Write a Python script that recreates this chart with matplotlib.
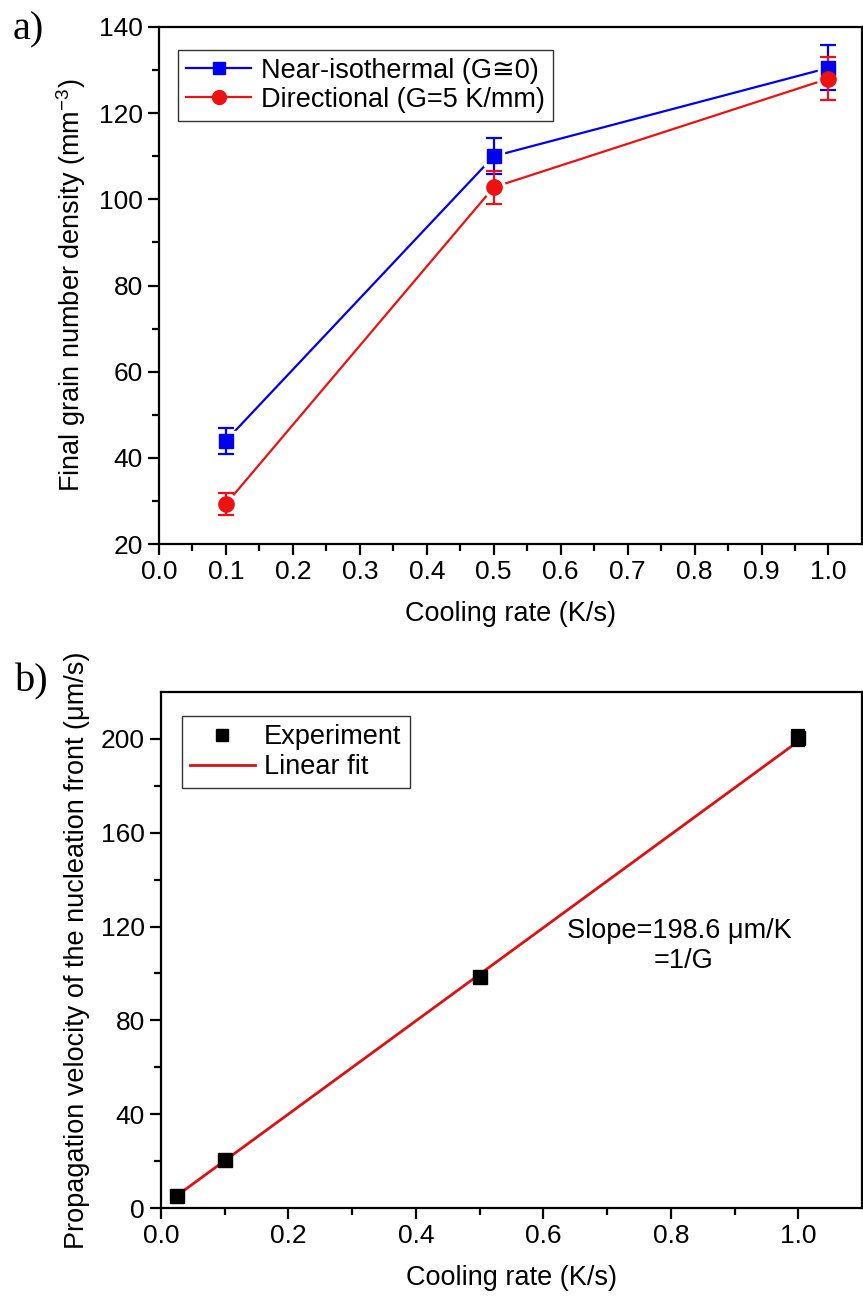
import numpy as np
import matplotlib.pyplot as plt
from matplotlib.lines import Line2D

plt.rcParams['font.family'] = ['Liberation Sans', 'DejaVu Sans']
plt.rcParams['mathtext.fontset'] = 'custom'
plt.rcParams['mathtext.rm'] = 'Liberation Sans'
plt.rcParams['mathtext.it'] = 'Liberation Sans'

# panel a data
rate_a = [0.1, 0.5, 1.0]
iso = [44.0, 110.0, 130.5]
iso_err = [3.0, 4.2, 5.2]
direc = [29.3, 102.8, 128.0]
direc_err = [2.6, 3.8, 5.0]

# panel b data
rate_b = [0.025, 0.1, 0.5, 1.0]
vel = [5.2, 20.3, 98.5, 200.5]
vel_err = [0.8, 1.0, 1.5, 3.5]
fit_x = [0.025, 1.0]
fit_y = [5.3, 199.0]

blue = '#0000ee'
red = '#ee1111'

fig = plt.figure(figsize=(8.63, 12.96), dpi=100)
ax1 = fig.add_axes([0.1842, 0.5802, 0.8146, 0.3990])
ax2 = fig.add_axes([0.1866, 0.0679, 0.8122, 0.3981])

fs = 19.5

def style(ax):
    for s in ax.spines.values():
        s.set_linewidth(1.6)
    ax.tick_params(which='both', direction='out', top=False, right=False,
                   labelsize=19, width=1.6)
    ax.tick_params(which='major', length=8)
    ax.tick_params(which='minor', length=5)

# ---- a)  line, white halo (gap), error bars, markers
for y, err, c, m, ms in [(iso, iso_err, blue, 's', 10), (direc, direc_err, red, 'o', 11)]:
    ax1.plot(rate_a, y, color=c, lw=1.6, zorder=1)
    ax1.plot(rate_a, y, ls='none', marker=m, ms=ms + 4.5, mfc='white', mec='white', zorder=2)
    ax1.errorbar(rate_a, y, yerr=err, fmt='none', ecolor=c, capsize=6,
                 capthick=1.6, elinewidth=1.6, zorder=3)
    ax1.plot(rate_a, y, ls='none', marker=m, ms=ms, mfc=c, mec=c, zorder=4)

ax1.set_xlim(0, 1.05)
ax1.set_ylim(20, 140)
ax1.set_xticks(np.arange(0, 1.01, 0.1))
ax1.set_xticks(np.arange(0.05, 1.05, 0.1), minor=True)
ax1.set_yticks(np.arange(20, 141, 20))
ax1.set_yticks(np.arange(30, 140, 20), minor=True)
ax1.set_xticklabels(['%.1f' % v for v in np.arange(0, 1.01, 0.1)])
ax1.set_xlabel('Cooling rate (K/s)', fontsize=fs, labelpad=12)
ax1.set_ylabel('Final grain number density (mm$^{-3}$)', fontsize=fs, labelpad=8)
style(ax1)
h1 = [Line2D([], [], color=blue, marker='s', ms=9, lw=1.6),
      Line2D([], [], color=red, marker='o', ms=10, lw=1.6)]
leg = ax1.legend(h1, ['Near-isothermal (G\u22450)', 'Directional (G=5 K/mm)'],
                 loc='upper left', fontsize=fs, frameon=True, fancybox=False,
                 edgecolor='black', handlelength=2.4, borderpad=0.3,
                 labelspacing=0.1, handletextpad=0.35,
                 bbox_to_anchor=(0.008, 0.982))
leg.get_frame().set_linewidth(1.0)
fig.text(0.015, 0.977, 'a)', fontsize=29, family='Liberation Serif', va='center')

# ---- b)
ax2.plot(fit_x, fit_y, color='#dd1111', lw=2, zorder=2)
ax2.errorbar(rate_b, vel, yerr=vel_err, color='black', marker='s', ms=10,
             ls='none', capsize=5, capthick=1.6, elinewidth=1.6, zorder=3)
ax2.set_xlim(0, 1.1)
ax2.set_ylim(0, 220)
ax2.set_xticks(np.arange(0, 1.01, 0.2))
ax2.set_xticks(np.arange(0.1, 1.1, 0.2), minor=True)
ax2.set_yticks(np.arange(0, 201, 40))
ax2.set_yticks(np.arange(20, 220, 40), minor=True)
ax2.set_xticklabels(['%.1f' % v for v in np.arange(0, 1.01, 0.2)])
ax2.set_xlabel('Cooling rate (K/s)', fontsize=fs, labelpad=12)
ax2.set_ylabel('Propagation velocity of the nucleation front (\u03bcm/s)',
               fontsize=fs, labelpad=8)
style(ax2)
h2 = [Line2D([], [], color='black', marker='s', ms=8, ls='none'),
      Line2D([], [], color='#dd1111', lw=2)]
leg2 = ax2.legend(h2, ['Experiment', 'Linear fit'], loc='upper left', fontsize=fs,
                  frameon=True, fancybox=False, edgecolor='black',
                  handlelength=2.4, borderpad=0.3, labelspacing=0.15,
                  handletextpad=0.35, bbox_to_anchor=(0.01, 0.98))
leg2.get_frame().set_linewidth(1.0)
ax2.text(0.74, 0.537, 'Slope=198.6 \u03bcm/K', transform=ax2.transAxes,
         fontsize=fs, ha='center', va='center')
ax2.text(0.745, 0.478, '=1/G', transform=ax2.transAxes,
         fontsize=fs, ha='center', va='center')
fig.text(0.017, 0.474, 'b)', fontsize=29, family='Liberation Serif', va='center')

fig.savefig('out.png', dpi=100)
